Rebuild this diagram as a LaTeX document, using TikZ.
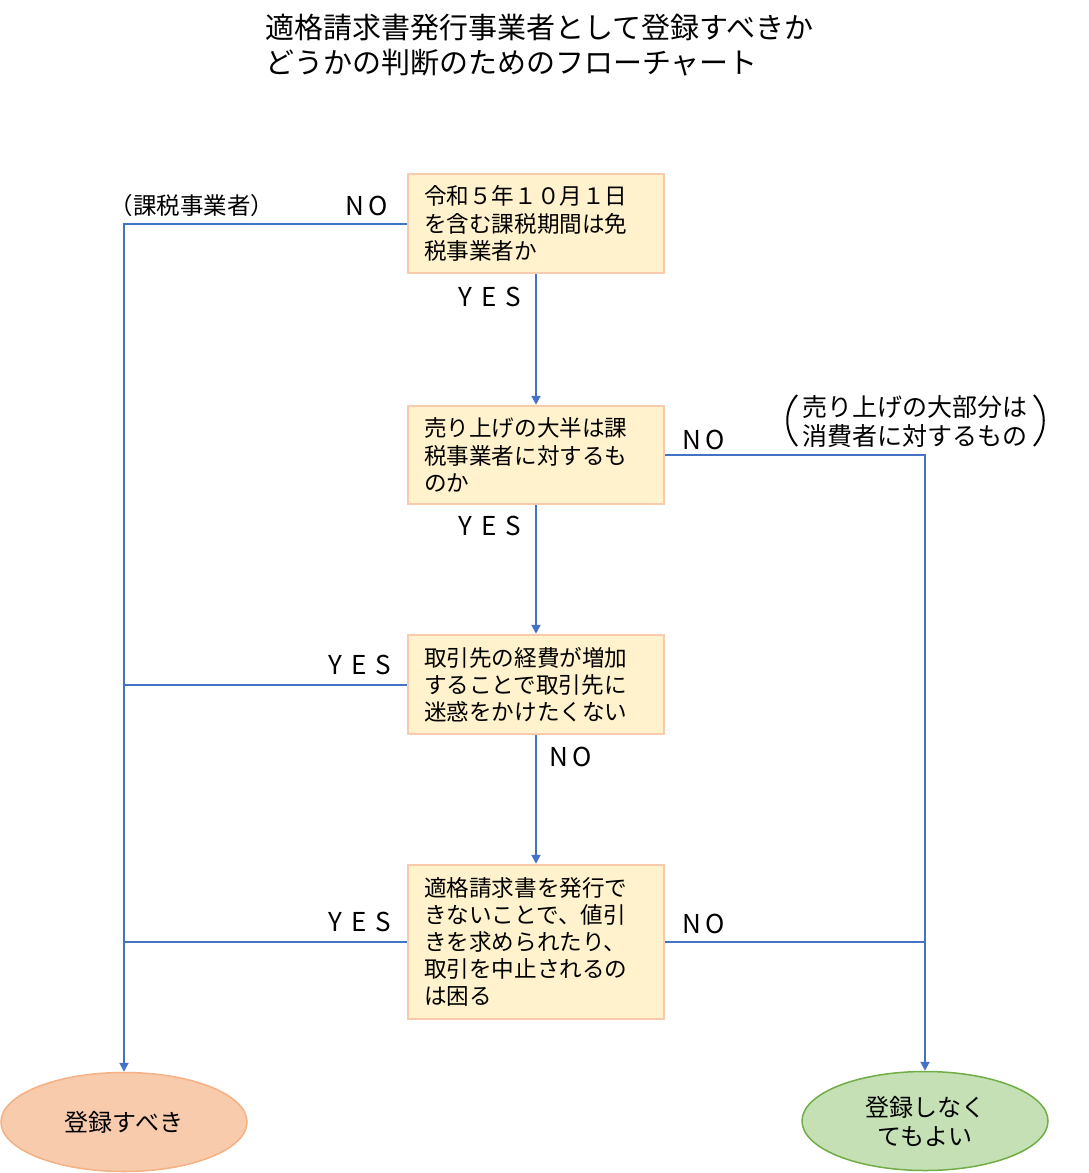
\documentclass[tikz,border=0pt]{standalone}
\usepackage{fontspec}
\setmainfont{Noto Sans CJK JP}
\usetikzlibrary{shapes.geometric,arrows.meta}
\definecolor{boxfill}{HTML}{FFF2CC}
\definecolor{boxline}{HTML}{F8CBAD}
\definecolor{conncol}{HTML}{4472C4}
\definecolor{regfill}{HTML}{F8CBAD}
\definecolor{regline}{HTML}{F4B183}
\definecolor{nofill}{HTML}{C5E0B4}
\definecolor{noline}{HTML}{70AD47}
\newcommand{\yestxt}{Y\hspace{9pt}E\hspace{9pt}S}
\newcommand{\notxt}{N\hspace{4pt}O}
\begin{document}
\begin{tikzpicture}[x=1pt,y=-1pt,
  qbox/.style={draw=boxline,fill=boxfill,line width=2.5pt,rectangle,
    text width=224pt,inner xsep=16pt,inner ysep=0pt,align=left,
    font=\fontsize{22.6}{27.2}\selectfont},
  endnode/.style={ellipse,minimum width=246pt,minimum height=99pt,inner sep=0pt,
    line width=1.5pt,align=center,font=\fontsize{24}{29}\selectfont},
  conn/.style={draw=conncol,line width=2pt,-{Triangle[width=9pt,length=9pt]}},
  line/.style={draw=conncol,line width=2pt},
  lbl/.style={inner sep=0pt,font=\fontsize{26}{26}\selectfont},
  note/.style={inner sep=0pt,align=left}]
\useasboundingbox (0,0) rectangle (1089,1173);
% title
\node[anchor=west,inner sep=0pt,align=left,font=\fontsize{29}{35}\selectfont] (title) at (265,45.5)
  {適格請求書発行事業者として登録すべきか\\どうかの判断のためのフローチャート};
% decision boxes
\node[qbox,minimum height=99pt] (q1) at (536,223.5) {令和５年１０月１日\\を含む課税期間は免\\税事業者か};
\node[qbox,minimum height=98pt] (q2) at (536,455) {売り上げの大半は課\\税事業者に対するも\\のか};
\node[qbox,minimum height=99pt] (q3) at (536,684.5) {取引先の経費が増加\\することで取引先に\\迷惑をかけたくない};
\node[qbox,minimum height=154pt] (q4) at (536,942) {適格請求書を発行で\\きないことで、値引\\きを求められたり、\\取引を中止されるの\\は困る};
% end nodes
\node[endnode,draw=regline,fill=regfill] (reg) at (124,1122) {登録すべき};
\node[endnode,draw=noline,fill=nofill] (noreg) at (925,1121) {登録しなく\\てもよい};
% turning points
\coordinate (lturn) at (124,223.5);
\coordinate (j3) at (124,684.5);
\coordinate (j4) at (124,942);
\coordinate (rturn) at (925,455);
\coordinate (rj4) at (925,942);
% connectors
\draw[conn] (q1.west) -- (lturn) -- (reg.north);
\draw[conn] (q1.south) -- (q2.north);
\draw[conn] (q2.south) -- (q3.north);
\draw[conn] (q3.south) -- (q4.north);
\draw[line] (q3.west) -- (j3);
\draw[line] (q4.west) -- (j4);
\draw[conn] (q2.east) -- (rturn) -- (noreg.north);
\draw[line] (q4.east) -- (rj4);
% labels
\node[lbl] (l1no) at (367,206) {\notxt};
\node[note,font=\fontsize{23.5}{23.5}\selectfont] (l1note) at (192,206) {（課税事業者）};
\node[lbl] (l1yes) at (490,297) {\yestxt};
\node[lbl] (l2yes) at (490,526) {\yestxt};
\node[lbl] (l2no) at (704,440) {\notxt};
\node[note,font=\fontsize{25}{29}\selectfont] (l2note) at (914.5,421.5) {売り上げの大部分は\\消費者に対するもの};
\draw[line width=2pt] (797,395) .. controls (784,410) and (784,431) .. (797,446);
\draw[line width=2pt] (1034,395) .. controls (1047,410) and (1047,431) .. (1034,446);
\node[lbl] (l3yes) at (360,665) {\yestxt};
\node[lbl] (l3no) at (571,757) {\notxt};
\node[lbl] (l4yes) at (360,922) {\yestxt};
\node[lbl] (l4no) at (704,924) {\notxt};
\end{tikzpicture}
\end{document}
